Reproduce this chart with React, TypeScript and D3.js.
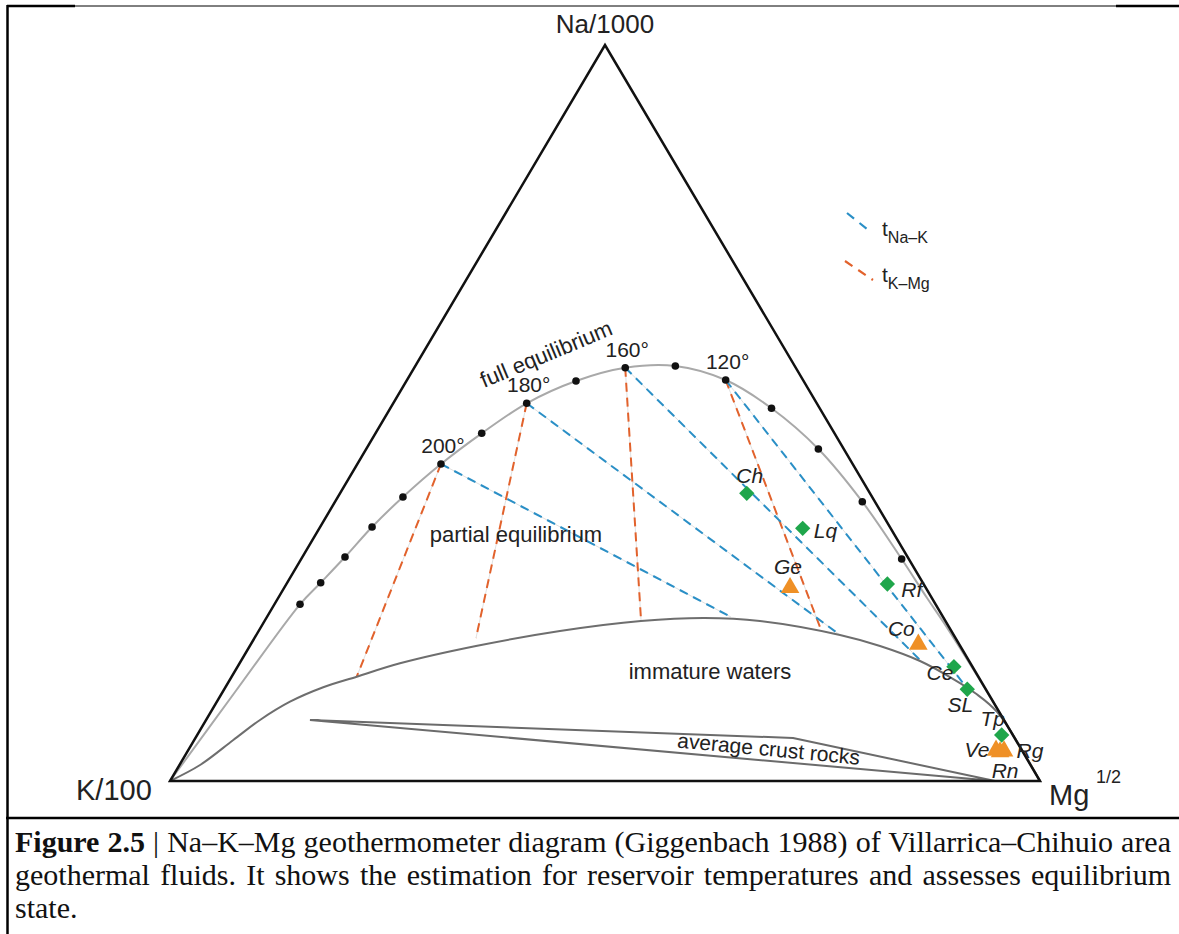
import React, { useLayoutEffect, useRef } from "react";
import * as d3 from "d3";

// ---------- DATA (ternary percentages: na = Na/1000 share, mg = Mg^1/2 share) ----------
const vertexLabels = ["Na/1000", "K/100", "Mg"];

// full equilibrium curve (K corner -> Mg corner)
const fullEqNa = [0, 12.09, 24.01, 26.94, 30.43, 34.51, 38.59, 43.07, 47.24, 51.32, 54.35, 56.15, 56.39, 54.48, 50.64, 45.11, 37.95, 30.16, 24.86, 21.47, 10, 0];
const fullEqMg = [0, 1.43, 2.94, 3.85, 4.9, 5.97, 7.48, 9.61, 12.21, 15.34, 19.49, 24.25, 29.89, 36.63, 43.82, 51.97, 60.6, 69.02, 74.59, 78.23, 90, 100];

// temperature dots on the full equilibrium curve
const dotNa = [24.01, 26.94, 30.43, 34.51, 38.59, 43.07, 47.24, 51.32, 54.35, 56.15, 56.39, 54.48, 50.64, 45.11, 37.95, 30.16];
const dotMg = [2.94, 3.85, 4.9, 5.97, 7.48, 9.61, 12.21, 15.34, 19.49, 24.25, 29.89, 36.63, 43.82, 51.97, 60.6, 69.02];
const tempLabels = ["200°", "180°", "160°", "120°"];
const tempLabelDot = [5, 7, 9, 11];

// partial equilibrium / immature waters boundary
const partialNa = [0, 2.17, 5.57, 8.29, 10.77, 12.73, 14.17, 15.99, 18.34, 20.38, 21.74, 22.15, 21.74, 19.84, 18.34, 16.3, 13.72, 11.96, 9.38, 0];
const partialMg = [0, 2.37, 4.49, 6.2, 8.41, 11.25, 14.38, 18.44, 26.0, 34.63, 43.26, 50.41, 56.94, 67.09, 72.44, 78.06, 83.37, 86.55, 90.37, 100];

// average crust rocks wedge
const crustNa = [8.29, 5.84, 0, 8.29];
const crustMg = [11.94, 68.69, 94.83, 11.94];

// t K-Mg isotherms (orange): start dot index -> end point
const kmgStartDot = [5, 7, 9, 11];
const kmgEndNa = [14.17, 19.43, 21.88, 20.92];
const kmgEndMg = [14.38, 25.46, 43.2, 64.25];

// t Na-K isotherms (blue)
const naKStartDot = [5, 7, 9, 11];
const naKEndNa = [22.28, 19.84, 16.17, 13.32];
const naKEndMg = [53.34, 67.09, 78.36, 84.49];

// samples
const sampleNames = ["Ch", "Lq", "Rf", "Ce", "SL", "Tp", "Ge", "Co", "Ve", "Rn", "Rg"];
const sampleNa = [39.09, 34.33, 26.77, 15.53, 12.46, 6.25, 26.4, 18.71, 4.31, 4.08, 4.21];
const sampleMg = [46.75, 55.56, 69.07, 82.34, 85.41, 92.47, 58.07, 76.66, 92.79, 93.37, 93.76];
const sampleType = ["d", "d", "d", "d", "d", "d", "t", "t", "t", "t", "t"];

const regionLabels = ["full equilibrium", "partial equilibrium", "immature waters", "average crust rocks"];
const legendLabels = [["t", "Na–K"], ["t", "K–Mg"]];
const captionBold = "Figure 2.5";
const captionLines = [
  " | Na–K–Mg geothermometer diagram (Giggenbach 1988) of Villarrica–Chihuio area",
  "geothermal fluids. It shows the estimation for reservoir temperatures and assesses equilibrium",
  "state.",
];

// ---------- LAYOUT / STYLE ----------
const W = 1179;
const H = 934;
const BLUE = "#2a8fc6";
const ORANGE = "#e2622c";
const GREEN = "#1fa64b";
const TRI = "#ef9026";
const FONT = "'Liberation Sans', Arial, Helvetica, sans-serif";
const SERIF = "'Liberation Serif', 'Times New Roman', serif";
const CAP_X = 15;
const CAP_W = 1156;
const CAP_SIZE = 30;

const labelOffset: Record<string, [number, number, string]> = {
  Ch: [3, -10, "middle"],
  Lq: [11, 10, "start"],
  Rf: [14, 13, "start"],
  Ce: [-14, 13, "middle"],
  SL: [-7, 23, "middle"],
  Tp: [-9, -9, "middle"],
  Ge: [-2, -13, "middle"],
  Co: [-17, -7, "middle"],
  Ve: [-19, 8, "middle"],
  Rn: [5, 27, "middle"],
  Rg: [26, 8, "middle"],
};

export default function App() {
  const capRefs = useRef<(SVGTextElement | null)[]>([]);

  useLayoutEffect(() => {
    const justify = () => {
      capRefs.current.forEach((el) => {
        if (!el) return;
        el.setAttribute("word-spacing", "0");
        const len = el.getComputedTextLength();
        const spaces = (el.textContent || "").split(" ").length - 1;
        if (spaces > 0) el.setAttribute("word-spacing", String((CAP_W - len) / spaces));
      });
    };
    justify();
    if ((document as any).fonts && (document as any).fonts.ready) (document as any).fonts.ready.then(justify);
  }, []);

  // ternary projection through linear scales
  const xS = d3.scaleLinear().domain([0, 100]).range([170, 1040]);
  const yS = d3.scaleLinear().domain([0, 100]).range([781, 45]);
  const P = (na: number, mg: number): [number, number] => [xS(mg + na / 2), yS(na)];

  const smooth = d3.line<[number, number]>().curve(d3.curveCatmullRom.alpha(0.5));
  const straight = d3.line<[number, number]>();

  const fullPts = fullEqNa.map((n, i) => P(n, fullEqMg[i]));
  const partPts = partialNa.map((n, i) => P(n, partialMg[i]));
  const crustPts = crustNa.map((n, i) => P(n, crustMg[i]));
  const dots = dotNa.map((n, i) => P(n, dotMg[i]));
  const triPts = [P(0, 0), P(0, 100), P(100, 0)];

  const diamond = d3.symbol().type(d3.symbolDiamond2).size(150)();
  const triangle = d3.symbol().type(d3.symbolTriangle).size(150)();

  const naApex = P(100, 0);
  const kV = P(0, 0);
  const mgV = P(0, 100);

  return (
    <div style={{ position: "absolute", left: 0, top: 0 }}>
      <svg width={W} height={H} style={{ display: "block", background: "#fff" }}>
        {/* frame */}
        <line x1={7} y1={6} x2={75} y2={6} stroke="#000" strokeWidth={2.5} />
        <line x1={75} y1={6} x2={1116} y2={6} stroke="#000" strokeWidth={1} />
        <line x1={1116} y1={6} x2={1179} y2={6} stroke="#000" strokeWidth={2.5} />
        <line x1={7.5} y1={5} x2={7.5} y2={934} stroke="#000" strokeWidth={2.5} />
        <line x1={6} y1={818} x2={1179} y2={818} stroke="#000" strokeWidth={2.5} />

        {/* average crust rocks */}
        <path d={straight(crustPts) || ""} fill="none" stroke="#6b6b6b" strokeWidth={2} strokeLinejoin="round" />

        {/* guide lines under dashes */}
        {kmgStartDot.map((di, i) => {
          const e = P(kmgEndNa[i], kmgEndMg[i]);
          return <line key={"gk" + i} x1={dots[di][0]} y1={dots[di][1]} x2={e[0]} y2={e[1]} stroke="#d8d8d8" strokeWidth={0.8} />;
        })}
        {naKStartDot.map((di, i) => {
          const e = P(naKEndNa[i], naKEndMg[i]);
          return <line key={"gn" + i} x1={dots[di][0]} y1={dots[di][1]} x2={e[0]} y2={e[1]} stroke="#d8d8d8" strokeWidth={0.8} />;
        })}

        {/* isotherms */}
        {kmgStartDot.map((di, i) => {
          const e = P(kmgEndNa[i], kmgEndMg[i]);
          return <line key={"k" + i} x1={dots[di][0]} y1={dots[di][1]} x2={e[0]} y2={e[1]} stroke={ORANGE} strokeWidth={2} strokeDasharray="9 6" />;
        })}
        {naKStartDot.map((di, i) => {
          const e = P(naKEndNa[i], naKEndMg[i]);
          return <line key={"n" + i} x1={dots[di][0]} y1={dots[di][1]} x2={e[0]} y2={e[1]} stroke={BLUE} strokeWidth={2} strokeDasharray="9 6" />;
        })}

        {/* curves */}
        <path d={smooth(fullPts) || ""} fill="none" stroke="#a9a9a9" strokeWidth={2} />
        <path d={smooth(partPts) || ""} fill="none" stroke="#6e6e6e" strokeWidth={2} />

        {/* triangle */}
        <path d={(straight(triPts) || "") + "Z"} fill="none" stroke="#111" strokeWidth={2.5} strokeLinejoin="miter" />

        {/* dots */}
        {dots.map((d, i) => (
          <circle key={"dot" + i} cx={d[0]} cy={d[1]} r={3.8} fill="#111" />
        ))}
        {tempLabels.map((t, i) => {
          const d = dots[tempLabelDot[i]];
          return (
            <text key={"tl" + i} x={d[0] + 2} y={d[1] - 11} textAnchor="middle" fontFamily={FONT} fontSize={21} fill="#222">
              {t}
            </text>
          );
        })}

        {/* region labels */}
        <text x={0} y={0} transform="translate(549,361) rotate(-22.5)" textAnchor="middle" fontFamily={FONT} fontSize={22} fill="#222">
          {regionLabels[0]}
        </text>
        <text x={516} y={542} textAnchor="middle" fontFamily={FONT} fontSize={22} fill="#222">
          {regionLabels[1]}
        </text>
        <text x={710} y={679} textAnchor="middle" fontFamily={FONT} fontSize={22} fill="#222">
          {regionLabels[2]}
        </text>
        <text x={0} y={0} transform="translate(768,756) rotate(5.4)" textAnchor="middle" fontFamily={FONT} fontSize={21} fill="#222">
          {regionLabels[3]}
        </text>

        {/* samples */}
        {sampleNames.map((s, i) => {
          const [x, y] = P(sampleNa[i], sampleMg[i]);
          return sampleType[i] === "d" ? (
            <path key={"s" + i} d={diamond || ""} transform={`translate(${x},${y})`} fill={GREEN} />
          ) : (
            <path key={"s" + i} d={triangle || ""} transform={`translate(${x},${y + 1})`} fill={TRI} />
          );
        })}
        {sampleNames.map((s, i) => {
          const [x, y] = P(sampleNa[i], sampleMg[i]);
          const o = labelOffset[s];
          return (
            <text key={"sl" + i} x={x + o[0]} y={y + o[1]} textAnchor={o[2] as any} fontFamily={FONT} fontStyle="italic" fontSize={21} fill="#222">
              {s}
            </text>
          );
        })}

        {/* vertex labels */}
        <text x={naApex[0]} y={33} textAnchor="middle" fontFamily={FONT} fontSize={26} fill="#222">
          {vertexLabels[0]}
        </text>
        <text x={kV[0] - 94} y={800} fontFamily={FONT} fontSize={29} fill="#222">
          {vertexLabels[1]}
        </text>
        <text x={mgV[0] + 9} y={805} fontFamily={FONT} fontSize={29} fill="#222">
          {vertexLabels[2]}
        </text>
        <text x={mgV[0] + 56} y={783} fontFamily={FONT} fontSize={18} fill="#222">
          1/2
        </text>

        {/* legend */}
        <line x1={847} y1={213} x2={872} y2={233} stroke={BLUE} strokeWidth={2.2} strokeDasharray="9 7" />
        <text x={882} y={236} fontFamily={FONT} fontSize={21} fill="#222">
          {legendLabels[0][0]}
          <tspan dy={7} fontSize={16}>{legendLabels[0][1]}</tspan>
        </text>
        <line x1={845} y1={261} x2={873} y2={280} stroke={ORANGE} strokeWidth={2.2} strokeDasharray="9 7" />
        <text x={882} y={282} fontFamily={FONT} fontSize={21} fill="#222">
          {legendLabels[1][0]}
          <tspan dy={7} fontSize={16}>{legendLabels[1][1]}</tspan>
        </text>

        {/* caption */}
        <text ref={(el) => { capRefs.current[0] = el; }} x={CAP_X} y={852} fontFamily={SERIF} fontSize={CAP_SIZE} fill="#111">
          <tspan fontWeight="bold">{captionBold}</tspan>
          <tspan>{captionLines[0]}</tspan>
        </text>
        <text ref={(el) => { capRefs.current[1] = el; }} x={CAP_X} y={885} fontFamily={SERIF} fontSize={CAP_SIZE} fill="#111">
          {captionLines[1]}
        </text>
        <text x={CAP_X} y={918} fontFamily={SERIF} fontSize={CAP_SIZE} fill="#111">
          {captionLines[2]}
        </text>
      </svg>
    </div>
  );
}
